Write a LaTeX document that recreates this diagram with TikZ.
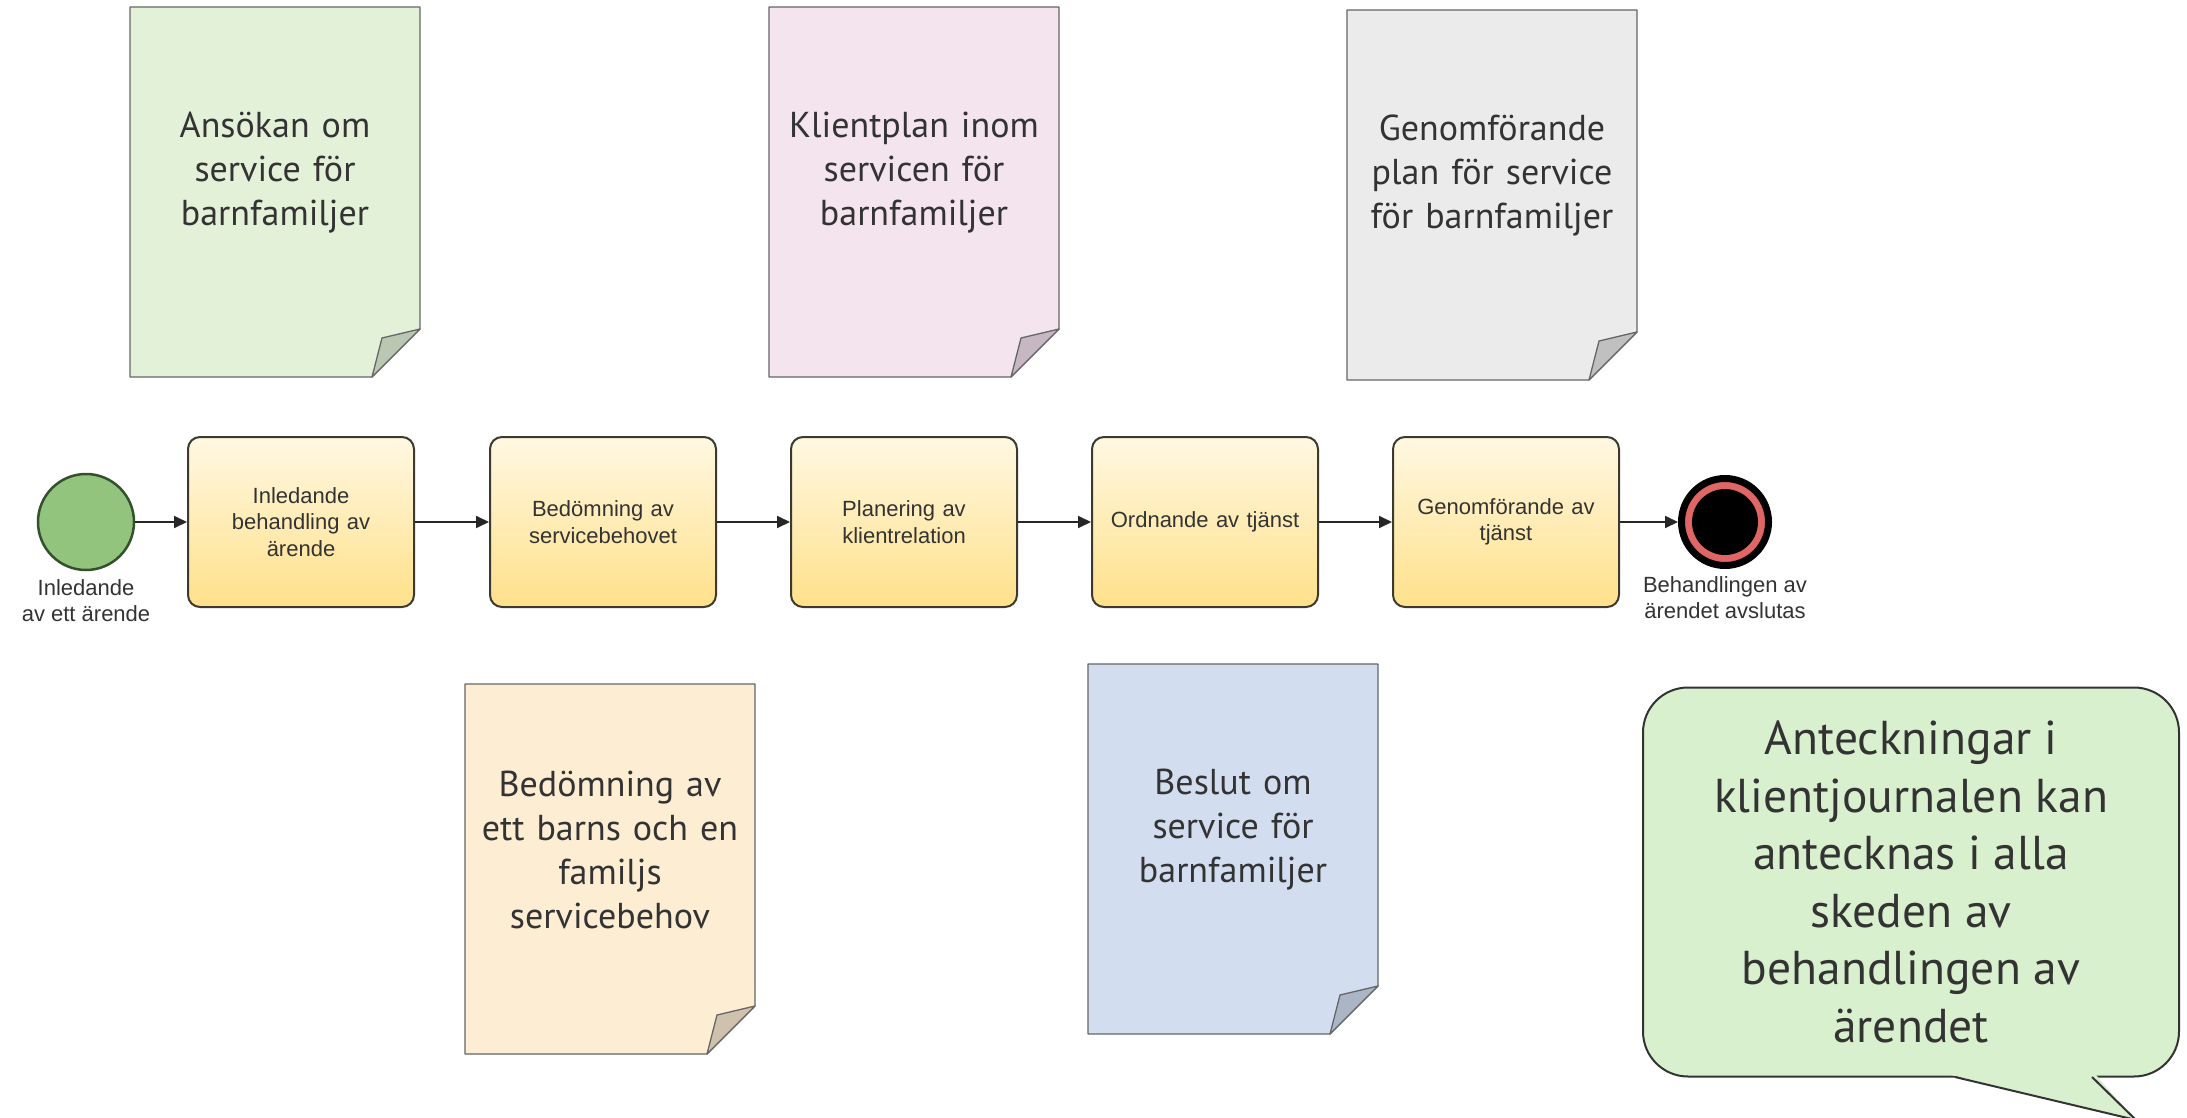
\documentclass[tikz,border=0pt]{standalone}
\usepackage{fontspec}
\setmainfont{PT Sans}
\newfontfamily\taskfont{Liberation Sans}
\usetikzlibrary{arrows.meta,positioning}
\definecolor{ink}{HTML}{333333}
\definecolor{tasktop}{HTML}{FFF8E2}
\definecolor{taskbot}{HTML}{FFE08A}
\definecolor{taskline}{HTML}{3C3A30}
\definecolor{startgreen}{HTML}{93C47D}
\definecolor{startline}{HTML}{34502C}
\definecolor{ringred}{HTML}{E06666}
\definecolor{notegreen}{HTML}{D9F0CE}
\definecolor{sheetgreen}{HTML}{E3F1D9}
\definecolor{foldgreen}{HTML}{BAC7B2}
\definecolor{sheetpink}{HTML}{F3E4EE}
\definecolor{foldpink}{HTML}{C6B7C2}
\definecolor{sheetgray}{HTML}{EBEBEB}
\definecolor{foldgray}{HTML}{C0C0C0}
\definecolor{sheetorange}{HTML}{FDEDD3}
\definecolor{foldorange}{HTML}{CFC2AD}
\definecolor{sheetblue}{HTML}{D2DEF0}
\definecolor{foldblue}{HTML}{AAB5C6}

% #1 name, #2 left, #3 top, #4 fill, #5 fold, #6 text
\newcommand{\notesheet}[6]{%
  \draw[sheetline, fill=#4] (#2,#3) -- ++(290,0) -- ++(0,322) -- ++(-48,48) -- ++(-242,0) -- cycle;
  \draw[sheetline, fill=#5] (#2+290,#3+322) -- (#2+242,#3+370) -- (#2+252,#3+331) -- cycle;
  \node[sheettext] (#1) at (#2+145,#3+166) {#6};
}

\begin{document}
\begin{tikzpicture}[x=1pt,y=-1pt,
    task/.style={draw=taskline, line width=2pt, rounded corners=12pt,
      top color=tasktop, bottom color=taskbot, minimum width=226pt,
      minimum height=170pt, text width=210pt, align=center, text=ink,
      font=\taskfont\fontsize{22}{26.5}\selectfont},
    flow/.style={-{Triangle[length=13pt,width=12pt]}, line width=1.8pt, draw=black!85},
    startev/.style={circle, draw=startline, line width=2.5pt, fill=startgreen,
      minimum size=96pt, inner sep=0pt},
    endev/.style={circle, draw=black, line width=7pt, fill=ringred,
      minimum size=87pt, inner sep=0pt,
      path picture={\fill[black] (path picture bounding box.center) circle (33pt);}},
    evlabel/.style={align=center, text=ink, inner sep=2pt,
      font=\taskfont\fontsize{22}{26.5}\selectfont},
    sheetline/.style={draw=black!60, line width=1.3pt, line join=round},
    sheettext/.style={align=center, text=ink, text width=270pt,
      font=\fontsize{36}{44}\selectfont},
    callout/.style={draw=ink, line width=2pt, fill=notegreen, rounded corners=45pt,
      minimum width=536pt, minimum height=389pt, align=center, text=ink,
      font=\fontsize{47.5}{57.5}\selectfont}]
  \useasboundingbox (0,0) rectangle (2187,1118);

  % documents
  \notesheet{ansokan}{130}{7}{sheetgreen}{foldgreen}{Ansökan om\\service för\\barnfamiljer}
  \notesheet{klientplan}{769}{7}{sheetpink}{foldpink}{Klientplan inom\\servicen för\\barnfamiljer}
  \notesheet{genomplan}{1347}{10}{sheetgray}{foldgray}{Genomförande\\plan för service\\för barnfamiljer}
  \notesheet{bedomning}{465}{684}{sheetorange}{foldorange}{Bedömning av\\ett barns och en\\familjs\\servicebehov}
  \notesheet{beslut}{1088}{664}{sheetblue}{foldblue}{Beslut om\\service för\\barnfamiljer}

  % process
  \path
    (86,522) node[startev](start) {}
    (301,522) node[task](t1) {Inledande\\behandling av\\ärende}
    (603,522) node[task](t2) {Bedömning av\\servicebehovet}
    (904,522) node[task](t3) {Planering av\\klientrelation}
    (1205,522) node[task](t4) {Ordnande av tjänst}
    (1506,522) node[task](t5) {Genomförande av\\tjänst}
    (1725,522) node[endev](stop) {}
    ;
  \node[evlabel, below=6pt of start] (startlbl) {Inledande\\av ett ärende};
  \node[evlabel, below=5pt of stop] (stoplbl) {Behandlingen av\\ärendet avslutas};

  \foreach \a/\b in {start/t1,t1/t2,t2/t3,t3/t4,t4/t5,t5/stop}
    \draw[flow] (\a) -- (\b);

  % note
  \node[callout] (notes) at (1911,882) {Anteckningar i\\klientjournalen kan\\antecknas i alla\\skeden av\\behandlingen av\\ärendet};
  \fill[notegreen] (1951,1075) -- (2134,1119) -- (2096,1075) -- cycle;
  \draw[draw=ink, line width=2pt, line join=miter] (1955,1077) -- (2136,1120) -- (2092,1077);
\end{tikzpicture}
\end{document}
